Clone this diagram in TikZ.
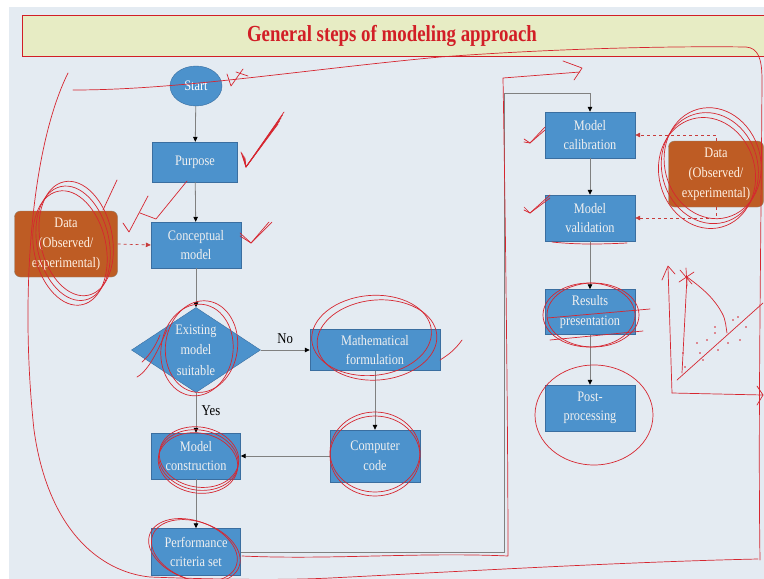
\documentclass[tikz,border=0pt]{standalone}
\usepackage{fontspec}
\setmainfont{Liberation Serif}
\newfontfamily\slidefont[FakeStretch=0.85]{Liberation Serif}
\newfontfamily\titlefont[FakeStretch=0.82]{Liberation Serif}
\usetikzlibrary{arrows.meta, shapes.geometric}
\definecolor{slidebg}{RGB}{228,235,242}
\definecolor{banner}{RGB}{231,236,196}
\definecolor{titlered}{RGB}{210,30,38}
\definecolor{boxblue}{RGB}{76,146,204}
\definecolor{boxline}{RGB}{58,110,160}
\definecolor{databrown}{RGB}{190,92,36}
\definecolor{linegray}{RGB}{128,128,128}
\definecolor{inkred}{RGB}{214,38,48}
\definecolor{feedred}{RGB}{200,60,60}

\begin{document}
\begin{tikzpicture}[x=1pt, y=-1pt,
    box/.style={draw=boxline, fill=boxblue, text=white!94!black, align=center,
        inner sep=1pt, font=\slidefont\fontsize{14.5}{19.5}\selectfont},
    databox/.style={draw=gray!70!brown, fill=databrown, text=white!90!orange, align=center,
        rounded corners=6pt, minimum width=100, minimum height=66, inner sep=1pt,
        font=\slidefont\fontsize{14.5}{20}\selectfont},
    flow/.style={draw=linegray, line width=0.8pt, -{Triangle[length=5pt,width=4.5pt,color=black]}},
    feed/.style={draw=feedred, dashed, line width=0.7pt, -{Triangle[length=5pt,width=4.5pt]}},
    ink/.style={draw=inkred, line width=0.7pt, line cap=round, line join=round},
    lbl/.style={font=\slidefont\fontsize{15}{17}\selectfont}]
    \useasboundingbox (0,0) rectangle (764,579);
    \fill[white] (0,0) rectangle (764,579);
    \fill[slidebg] (9,7) rectangle (764,579);
    \draw[titlered, fill=banner, line width=0.6pt] (22,15) rectangle (770,56);
    \node[text=titlered, font=\titlefont\bfseries\fontsize{23}{23}\selectfont] (title) at (392,36) {General steps of modeling approach};

    \node[ellipse, fill=boxblue, draw=boxline, text=white, minimum width=52, minimum height=40, inner sep=0,
        font=\slidefont\fontsize{14.5}{16}\selectfont] (start) at (196,86) {Start};
    \node[box, minimum width=85, minimum height=40] (purpose) at (195,162) {Purpose};
    \node[box, minimum width=90, minimum height=46] (concept) at (196,245) {Conceptual\\model};
    \node[databox, minimum width=103] (dataL) at (66,244) {Data\\(Observed/\\experimental)};
    \node[diamond, fill=boxblue, draw=boxline, minimum width=129, minimum height=85, inner sep=0,
        label={[text=white!94!black, align=center, font=\slidefont\fontsize{14.5}{20.5}\selectfont]center:Existing\\model\\suitable}] (exist) at (196,350) {};
    \node[box, minimum width=130, minimum height=41] (math) at (375,350) {Mathematical\\formulation};
    \node[box, minimum width=90, minimum height=52] (code) at (375,456) {Computer\\code};
    \node[box, minimum width=89, minimum height=46] (build) at (196,456) {Model\\construction};
    \node[box, minimum width=89, minimum height=47] (perf) at (196,552) {Performance\\criteria set};
    \node[box, minimum width=90, minimum height=46] (calib) at (590,135) {Model\\calibration};
    \node[box, minimum width=90, minimum height=46] (valid) at (590,218) {Model\\validation};
    \node[box, minimum width=90, minimum height=45] (result) at (590,312) {Results\\presentation};
    \node[box, minimum width=90, minimum height=46] (post) at (590,408) {Post-\\processing};
    \node[databox, minimum width=95] (dataR) at (716,174) {Data\\(Observed/\\experimental)};
    \coordinate (turn) at (504,93);

    \draw[flow] (start) -- (purpose);
    \draw[flow] (purpose) -- (concept);
    \draw[flow] (concept) -- (exist);
    \draw[flow] (exist.east) -- node[lbl, above=3pt] (no) {No} (math.west);
    \draw[flow] (exist.south) -- node[lbl, right=2pt, pos=0.45] (yes) {Yes} (build.north);
    \draw[flow] (math) -- (code);
    \draw[flow] (code.west) -- (build.east);
    \draw[flow] (build) -- (perf);
    \draw[flow] (perf.east) -| (turn) -| (calib.north);
    \draw[flow] (calib) -- (valid);
    \draw[flow] (valid) -- (result);
    \draw[flow] (result) -- (post);
    \draw[feed] (dataL.east) -- (concept.west);
    \draw[feed] (dataR.north) |- (calib.east);
    \draw[feed] (dataR.south) |- (valid.east);

    \draw[ink] (73,90) .. controls (180,90) and (300,70) .. (440,57) .. controls (560,48) and (680,46) .. (746,47)
        .. controls (758,48) and (762,58) .. (762,80) .. controls (761,250) and (758,420) .. (760,560);
    \draw[ink] (68,73) .. controls (30,150) and (20,300) .. (34,430) .. controls (48,530) and (100,572) .. (150,577)
        .. controls (230,580) and (290,580) .. (330,578) .. controls (450,572) and (620,562) .. (758,559);
    \draw[ink] (580,72) -- (503,78) .. controls (506,250) and (508,450) .. (508,556)
        .. controls (420,552) and (330,560) .. (242,556);
    \draw[ink] (563,61) -- (582,68) -- (574,80);

    \foreach \d in {0,4,8}
        \draw[ink, rotate around={12:(70,248)}] (70+\d,248-\d) ellipse (36 and 58);
    \foreach \d in {0,4}
        \draw[ink, rotate around={-8:(197,350)}] (197+\d,350-\d) ellipse (36 and 46);
    \foreach \d in {0,5}
        \draw[ink, rotate around={5:(377,340)}] (377-\d,340-\d) ellipse (60 and 40);
    \foreach \d in {0,4}
        \draw[ink] (375,456-\d) ellipse (45 and 40);
    \foreach \d in {0,3,6}
        \draw[ink, rotate around={-10:(198,463)}] (198,463-\d) ellipse (40 and 30);
    \foreach \d in {0,3}
        \draw[ink, rotate around={-20:(193,550)}] (193+\d,550) ellipse (46 and 29);
    \foreach \d in {0,4}
        \draw[ink] (589+\d,315) ellipse (46 and 32);
    \draw[ink] (594,415) ellipse (59 and 50);
    \foreach \d in {0,4,8}
        \draw[ink, rotate around={15:(707,173)}] (707+\d,173-\d) ellipse (48 and 56);

    \draw[ink] (547,318) -- (650,309);
    \draw[ink] (550,340) -- (643,331);
    \draw[ink] (552,242) .. controls (580,245) and (605,244) .. (627,243);

    \draw[ink] (227,74) -- (231,86) -- (243,69);
    \draw[ink] (236,72) -- (248,76);
    \foreach \d in {0,3,6,9,12}
        \draw[ink] (241+\d/3,152+\d/2) -- (246,167) -- (284-\d/2,112+\d);
    \draw[ink] (117,180) -- (103,210);
    \draw[ink] (123,223) -- (129,232) -- (148,196);
    \draw[ink] (140,213) -- (156,219) -- (187,181);
    \foreach \d in {0,3}
        \draw[ink] (240,233+\d) -- (251,243) -- (272-\d,222);
    \foreach \d in {0,3}
        \draw[ink] (524,139+\d) -- (530,143) -- (545,127+\d);
    \foreach \d in {0,3}
        \draw[ink] (524,207+\d) -- (530,213) -- (550,195+\d);
    \draw[ink] (440,360) .. controls (448,355) and (455,350) .. (462,340);
    \draw[ink] (137,377) .. controls (150,370) and (160,345) .. (167,330);
    \draw[ink] (142,362) .. controls (150,355) and (156,345) .. (160,335);

    \draw[ink] (672,393) -- (668,267);
    \draw[ink] (662,280) -- (668,266) -- (675,274);
    \draw[ink] (672,393) -- (763,395);
    \draw[ink] (757,386) -- (763,395) -- (757,405);
    \draw[ink] (682,373) -- (687,277);
    \draw[ink] (680,270) -- (692,284) (679,282) -- (694,272) (686,268) -- (687,286);
    \draw[ink] (687,277) .. controls (705,290) and (715,300) .. (722,313) .. controls (726,320) and (726,328) .. (727,333);
    \draw[ink] (677,380) -- (763,303);
    \foreach \p in {(697,343),(700,353),(703,360),(707,340),(715,333),(718,350),(733,320),
                    (738,317),(740,340),(715,327),(685,367),(683,353),(728,343),(746,327)}
        \fill[inkred] \p circle (0.9);
\end{tikzpicture}
\end{document}
